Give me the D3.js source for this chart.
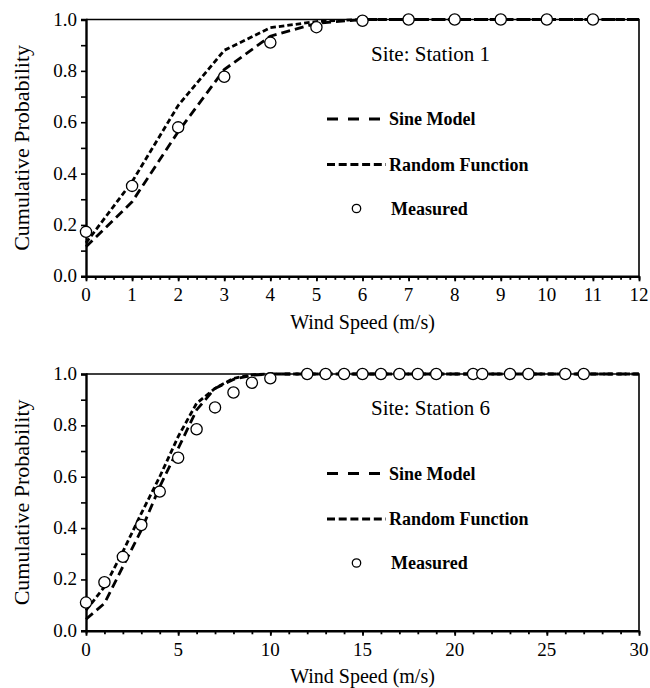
<!DOCTYPE html>
<html>
<head>
<meta charset="utf-8">
<script src="https://cdn.jsdelivr.net/npm/d3@7"></script>
<style>
  body { margin: 0; background: #fff; }
</style>
</head>
<body>
<svg id="chart" width="650" height="688" font-family="'Liberation Serif', 'DejaVu Serif', 'Times New Roman', serif"></svg>
<script>
// Station 1 data
const speed1 = [0, 1, 2, 3, 4, 5, 6, 7, 8, 9, 10, 11];
const measured1 = [0.173, 0.352, 0.58, 0.777, 0.91, 0.97, 0.995, 1, 1, 1, 1, 1];
const modelSpeed1 = [0, 1, 2, 3, 4, 5, 6, 7, 8, 9, 10, 11, 12];
const sine1 = [0.115, 0.29, 0.563, 0.805, 0.935, 0.985, 1, 1, 1, 1, 1, 1, 1];
const random1 = [0.13, 0.368, 0.665, 0.88, 0.968, 0.992, 1, 1, 1, 1, 1, 1, 1];

// Station 6 data
const speed6 = [0, 1, 2, 3, 4, 5, 6, 7, 8, 9, 10, 12, 13, 14, 15, 16, 17, 18, 19, 21, 21.5, 23, 24, 26, 27];
const measured6 = [0.11, 0.189, 0.288, 0.412, 0.542, 0.674, 0.785, 0.87, 0.928, 0.966, 0.983,
                   1, 1, 1, 1, 1, 1, 1, 1, 1, 1, 1, 1, 1, 1];
const modelSpeed6 = [0, 1, 2, 3, 4, 5, 6, 7, 8, 9, 10, 12, 15, 20, 25, 30];
const sine6 = [0.045, 0.107, 0.25, 0.392, 0.561, 0.71, 0.86, 0.944, 0.979, 0.995, 1, 1, 1, 1, 1, 1];
const random6 = [0.08, 0.171, 0.308, 0.457, 0.6, 0.756, 0.886, 0.944, 0.983, 0.997, 1, 1, 1, 1, 1, 1];

const yTicks = [0, 0.2, 0.4, 0.6, 0.8, 1.0];
const legendLabels = ["Sine Model", "Random Function", "Measured"];

const svg = d3.select("#chart");

const panels = [
    { top: 19.5, site: "Site: Station 1", xMax: 12, xTicks: d3.range(0, 13, 1), xMinor: d3.range(0, 12.01, 0.2),
      speed: speed1, measured: measured1, modelSpeed: modelSpeed1, sine: sine1, random: random1 },
    { top: 374, site: "Site: Station 6", xMax: 30, xTicks: d3.range(0, 31, 5), xMinor: d3.range(0, 31, 1),
      speed: speed6, measured: measured6, modelSpeed: modelSpeed6, sine: sine6, random: random6 }
];

const plot = { left: 86, right: 639, height: 256.8 };

function drawPanel(p) {
    const x = d3.scaleLinear().domain([0, p.xMax]).range([plot.left, plot.right]);
    const y = d3.scaleLinear().domain([0, 1]).range([p.top + plot.height, p.top]);
    const g = svg.append("g");
    const bottom = p.top + plot.height;

    // top and right frame
    g.append("path")
        .attr("d", `M${plot.left},${p.top}H${plot.right}V${bottom}`)
        .attr("fill", "none").attr("stroke", "#000").attr("stroke-width", 1.6);

    // y axis
    const yAxis = g.append("g").attr("transform", `translate(${plot.left},0)`)
        .call(d3.axisLeft(y).tickValues(d3.range(0, 1.01, 0.1)).tickSize(5).tickFormat(""));
    yAxis.select(".domain").attr("stroke-width", 2.4);
    yAxis.selectAll(".tick line").attr("stroke-width", 1.6);
    g.selectAll(".ylab").data(yTicks).join("text")
        .attr("x", plot.left - 9).attr("y", d => y(d) + 6)
        .attr("text-anchor", "end").attr("font-size", 19)
        .text(d => d.toFixed(1));

    // x axis
    const xAxis = g.append("g").attr("transform", `translate(0,${bottom})`)
        .call(d3.axisBottom(x).tickValues(p.xMinor).tickSize(3.5).tickFormat("").tickSizeOuter(0));
    xAxis.select(".domain").attr("stroke-width", 2.4);
    xAxis.selectAll(".tick line").attr("stroke-width", 1.8);
    g.append("g").attr("transform", `translate(0,${bottom})`)
        .call(d3.axisBottom(x).tickValues(p.xTicks).tickSize(5).tickFormat("").tickSizeOuter(0))
        .call(a => a.select(".domain").remove())
        .selectAll(".tick line").attr("stroke-width", 1.8);
    g.selectAll(".xlab").data(p.xTicks).join("text")
        .attr("x", d => x(d)).attr("y", bottom + 25)
        .attr("text-anchor", "middle").attr("font-size", 19)
        .text(d => d);

    // axis titles
    g.append("text")
        .attr("transform", `translate(29,${p.top + plot.height / 2}) rotate(-90)`)
        .attr("text-anchor", "middle").attr("font-size", 22)
        .text("Cumulative Probability");
    g.append("text")
        .attr("x", (plot.left + plot.right) / 2).attr("y", bottom + 52.5)
        .attr("text-anchor", "middle").attr("font-size", 20)
        .text("Wind Speed (m/s)");

    // model lines
    const line = d3.line().x(d => x(d[0])).y(d => y(d[1]));
    g.append("path")
        .datum(d3.zip(p.modelSpeed, p.sine))
        .attr("d", line).attr("fill", "none").attr("stroke", "#000")
        .attr("stroke-width", 2.8).attr("stroke-dasharray", "9,5");
    g.append("path")
        .datum(d3.zip(p.modelSpeed, p.random))
        .attr("d", line).attr("fill", "none").attr("stroke", "#000")
        .attr("stroke-width", 2.8).attr("stroke-dasharray", "5.5,3");

    // measured
    g.selectAll(".pt").data(d3.zip(p.speed, p.measured)).join("circle")
        .attr("cx", d => x(d[0])).attr("cy", d => y(d[1])).attr("r", 5.6)
        .attr("fill", "#fff").attr("stroke", "#000").attr("stroke-width", 1.3);

    // site label and legend
    g.append("text")
        .attr("x", 371).attr("y", p.top + 41)
        .attr("font-size", 21).text(p.site);

    const legY = [p.top + 99.5, p.top + 145, p.top + 189];
    g.append("line").attr("x1", 327).attr("x2", 386).attr("y1", legY[0]).attr("y2", legY[0])
        .attr("stroke", "#000").attr("stroke-width", 3).attr("stroke-dasharray", "11,10");
    g.append("line").attr("x1", 327).attr("x2", 386).attr("y1", legY[1]).attr("y2", legY[1])
        .attr("stroke", "#000").attr("stroke-width", 3).attr("stroke-dasharray", "8,3.7");
    g.append("circle").attr("cx", 356.5).attr("cy", legY[2]).attr("r", 4.2)
        .attr("fill", "#fff").attr("stroke", "#000").attr("stroke-width", 1.3);
    g.selectAll(".leg").data(legendLabels).join("text")
        .attr("x", (d, i) => i === 2 ? 391 : 389).attr("y", (d, i) => legY[i] + 6)
        .attr("font-size", 18).attr("font-weight", "bold")
        .text(d => d);
}

panels.forEach(drawPanel);
</script>
</body>
</html>
